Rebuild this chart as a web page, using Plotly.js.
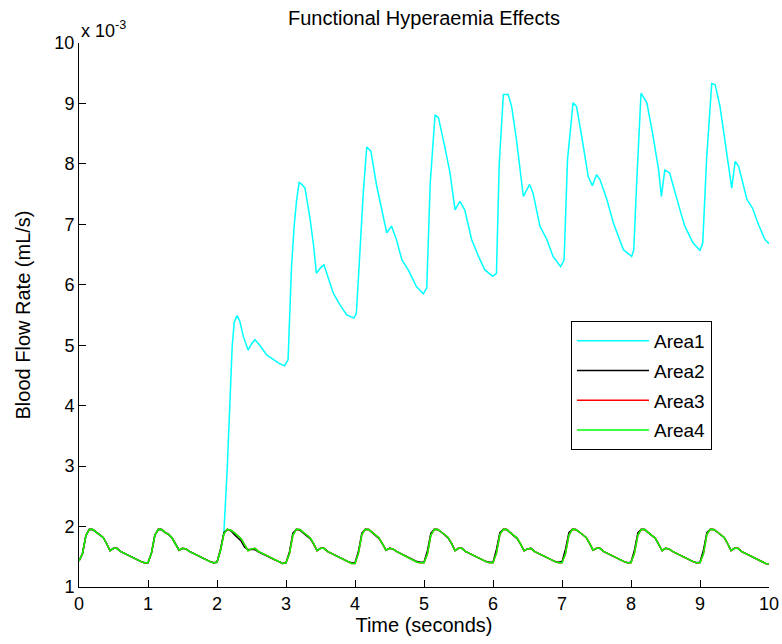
<!DOCTYPE html>
<html>
<head>
<meta charset="utf-8">
<script src="https://cdn.plot.ly/plotly-3.0.1.min.js"></script>
<style>
  html, body { margin: 0; padding: 0; background: #fff; }
  #chart { width: 782px; height: 644px; }
</style>
</head>
<body>
<div id="chart"></div>
<script>
// ---- Data ----
const seriesNames = ['Area1', 'Area2', 'Area3', 'Area4'];

// Shared time grid (seconds) for Area2..Area4
const tGrid = [
  0.00,0.05,0.10,0.15,0.20,0.25,0.30,0.35,0.40,0.45,0.50,0.55,0.60,0.65,0.70,0.75,0.80,0.85,0.90,0.95,
  1.00,1.05,1.10,1.15,1.20,1.25,1.30,1.35,1.40,1.45,1.50,1.55,1.60,1.65,1.70,1.75,1.80,1.85,1.90,1.95,
  2.00,2.05,2.10,2.15,2.20,2.25,2.30,2.35,2.40,2.45,2.50,2.55,2.60,2.65,2.70,2.75,2.80,2.85,2.90,2.95,
  3.00,3.05,3.10,3.15,3.20,3.25,3.30,3.35,3.40,3.45,3.50,3.55,3.60,3.65,3.70,3.75,3.80,3.85,3.90,3.95,
  4.00,4.05,4.10,4.15,4.20,4.25,4.30,4.35,4.40,4.45,4.50,4.55,4.60,4.65,4.70,4.75,4.80,4.85,4.90,4.95,
  5.00,5.05,5.10,5.15,5.20,5.25,5.30,5.35,5.40,5.45,5.50,5.55,5.60,5.65,5.70,5.75,5.80,5.85,5.90,5.95,
  6.00,6.05,6.10,6.15,6.20,6.25,6.30,6.35,6.40,6.45,6.50,6.55,6.60,6.65,6.70,6.75,6.80,6.85,6.90,6.95,
  7.00,7.05,7.10,7.15,7.20,7.25,7.30,7.35,7.40,7.45,7.50,7.55,7.60,7.65,7.70,7.75,7.80,7.85,7.90,7.95,
  8.00,8.05,8.10,8.15,8.20,8.25,8.30,8.35,8.40,8.45,8.50,8.55,8.60,8.65,8.70,8.75,8.80,8.85,8.90,8.95,
  9.00,9.05,9.10,9.15,9.20,9.25,9.30,9.35,9.40,9.45,9.50,9.55,9.60,9.65,9.70,9.75,9.80,9.85,9.90,9.95,
  10.00
];

// Area4 (x 10^-3 mL/s)
const area4 = [
  1.43,1.55,1.85,1.955,1.95,1.91,1.87,1.82,1.72,1.60,1.64,1.64,1.59,1.56,1.53,1.50,1.47,1.44,1.42,1.40,
  1.40,1.56,1.86,1.955,1.95,1.90,1.87,1.81,1.71,1.61,1.64,1.63,1.59,1.56,1.53,1.50,1.47,1.44,1.42,1.40,
  1.41,1.60,1.88,1.955,1.94,1.90,1.85,1.80,1.70,1.60,1.63,1.64,1.59,1.56,1.53,1.50,1.47,1.44,1.42,1.39,
  1.40,1.55,1.86,1.955,1.95,1.91,1.86,1.81,1.72,1.60,1.64,1.64,1.59,1.56,1.53,1.50,1.47,1.44,1.42,1.39,
  1.39,1.56,1.87,1.955,1.95,1.90,1.86,1.81,1.71,1.61,1.64,1.63,1.59,1.56,1.53,1.50,1.47,1.44,1.41,1.40,
  1.40,1.55,1.86,1.955,1.95,1.91,1.87,1.82,1.72,1.60,1.64,1.64,1.59,1.56,1.53,1.50,1.47,1.44,1.42,1.40,
  1.40,1.56,1.87,1.955,1.95,1.90,1.86,1.81,1.71,1.60,1.63,1.64,1.59,1.56,1.53,1.50,1.47,1.44,1.42,1.40,
  1.40,1.55,1.86,1.955,1.95,1.91,1.87,1.82,1.72,1.61,1.64,1.64,1.59,1.56,1.53,1.50,1.47,1.44,1.42,1.40,
  1.40,1.56,1.86,1.955,1.95,1.90,1.86,1.81,1.71,1.60,1.64,1.63,1.59,1.56,1.53,1.50,1.47,1.44,1.42,1.40,
  1.40,1.55,1.87,1.955,1.95,1.91,1.87,1.82,1.72,1.60,1.64,1.64,1.59,1.56,1.53,1.50,1.47,1.44,1.41,1.39,
  1.38
];

// Area3 (hidden under Area4 in the picture)
const area3 = [
  1.43,1.55,1.85,1.955,1.95,1.91,1.87,1.82,1.72,1.60,1.64,1.64,1.59,1.56,1.53,1.50,1.47,1.44,1.42,1.40,
  1.40,1.56,1.86,1.955,1.95,1.90,1.87,1.81,1.71,1.61,1.64,1.63,1.59,1.56,1.53,1.50,1.47,1.44,1.42,1.40,
  1.41,1.60,1.88,1.955,1.94,1.90,1.85,1.80,1.70,1.60,1.63,1.64,1.59,1.56,1.53,1.50,1.47,1.44,1.42,1.39,
  1.40,1.55,1.86,1.955,1.95,1.91,1.86,1.81,1.72,1.60,1.64,1.64,1.59,1.56,1.53,1.50,1.47,1.44,1.42,1.39,
  1.39,1.56,1.87,1.955,1.95,1.90,1.86,1.81,1.71,1.61,1.64,1.63,1.59,1.56,1.53,1.50,1.47,1.44,1.41,1.40,
  1.40,1.55,1.86,1.955,1.95,1.91,1.87,1.82,1.72,1.60,1.64,1.64,1.59,1.56,1.53,1.50,1.47,1.44,1.42,1.40,
  1.40,1.56,1.87,1.955,1.95,1.90,1.86,1.81,1.71,1.60,1.63,1.64,1.59,1.56,1.53,1.50,1.47,1.44,1.42,1.40,
  1.40,1.55,1.86,1.955,1.95,1.91,1.87,1.82,1.72,1.61,1.64,1.64,1.59,1.56,1.53,1.50,1.47,1.44,1.42,1.40,
  1.40,1.56,1.86,1.955,1.95,1.90,1.86,1.81,1.71,1.60,1.64,1.63,1.59,1.56,1.53,1.50,1.47,1.44,1.42,1.40,
  1.40,1.55,1.87,1.955,1.95,1.91,1.87,1.82,1.72,1.60,1.64,1.64,1.59,1.56,1.53,1.50,1.47,1.44,1.41,1.39,
  1.38
];

// Area2 (mostly under Area4, peeks out on some rising / falling edges)
const area2 = [
  1.43,1.55,1.85,1.955,1.95,1.91,1.87,1.82,1.72,1.60,1.64,1.64,1.59,1.56,1.53,1.50,1.47,1.44,1.42,1.40,
  1.40,1.56,1.86,1.955,1.95,1.90,1.87,1.81,1.71,1.61,1.64,1.63,1.59,1.56,1.53,1.50,1.47,1.44,1.42,1.40,
  1.41,1.62,1.90,1.955,1.93,1.87,1.82,1.76,1.66,1.62,1.62,1.62,1.58,1.55,1.52,1.49,1.47,1.44,1.42,1.39,
  1.40,1.58,1.89,1.955,1.94,1.89,1.85,1.80,1.71,1.60,1.64,1.64,1.59,1.56,1.53,1.50,1.47,1.44,1.42,1.40,
  1.40,1.59,1.89,1.955,1.95,1.90,1.85,1.80,1.71,1.61,1.64,1.63,1.59,1.56,1.53,1.50,1.47,1.44,1.42,1.41,
  1.41,1.60,1.89,1.955,1.95,1.91,1.86,1.81,1.72,1.60,1.64,1.64,1.59,1.56,1.53,1.50,1.47,1.44,1.42,1.41,
  1.41,1.62,1.90,1.955,1.95,1.90,1.85,1.80,1.71,1.60,1.63,1.64,1.59,1.56,1.53,1.50,1.47,1.44,1.42,1.41,
  1.42,1.62,1.90,1.955,1.95,1.91,1.87,1.82,1.72,1.61,1.64,1.64,1.59,1.56,1.53,1.50,1.47,1.44,1.42,1.40,
  1.41,1.61,1.90,1.955,1.95,1.90,1.86,1.81,1.71,1.60,1.64,1.63,1.59,1.56,1.53,1.50,1.47,1.44,1.42,1.40,
  1.41,1.61,1.90,1.955,1.95,1.91,1.87,1.82,1.72,1.60,1.64,1.64,1.59,1.56,1.53,1.50,1.47,1.44,1.41,1.39,
  1.38
];

// Area1 has its own time points
const tArea1 = [
  0.00,0.05,0.10,0.15,0.20,0.25,0.30,0.35,0.40,0.45,0.50,0.55,0.60,0.65,0.70,0.75,0.80,0.85,0.90,0.95,
  1.00,1.05,1.10,1.15,1.20,1.25,1.30,1.35,1.40,1.45,1.50,1.55,1.60,1.65,1.70,1.75,1.80,1.85,1.90,1.95,
  2.00,2.05,2.10,2.15,2.20,2.22,2.25,2.29,2.33,2.38,2.45,2.50,2.55,2.62,2.72,2.80,2.90,2.98,
  3.03,3.08,3.12,3.155,3.19,3.23,3.275,3.35,3.40,3.44,3.50,3.55,3.62,3.685,3.78,3.88,3.985,
  4.02,4.07,4.12,4.17,4.23,4.315,4.40,4.46,4.53,4.60,4.68,4.77,4.89,4.99,
  5.04,5.09,5.16,5.21,5.30,5.377,5.45,5.52,5.59,5.69,5.79,5.88,5.995,
  6.05,6.09,6.15,6.22,6.27,6.34,6.44,6.53,6.58,6.68,6.78,6.87,6.98,
  7.03,7.08,7.16,7.21,7.285,7.38,7.44,7.50,7.55,7.65,7.745,7.89,
  8.01,8.04,8.08,8.145,8.23,8.32,8.40,8.44,8.49,8.56,8.71,8.78,8.90,
  9.00,9.04,9.095,9.17,9.22,9.29,9.39,9.46,9.51,9.56,9.68,9.76,9.85,9.94,10.00
];
const area1 = [
  1.43,1.55,1.85,1.955,1.95,1.91,1.87,1.82,1.72,1.60,1.64,1.64,1.59,1.56,1.53,1.50,1.47,1.44,1.42,1.40,
  1.40,1.56,1.86,1.955,1.95,1.90,1.87,1.81,1.71,1.61,1.64,1.63,1.59,1.56,1.53,1.50,1.47,1.44,1.42,1.40,
  1.41,1.60,1.90,3.00,4.60,4.98,5.38,5.49,5.40,5.15,4.92,5.02,5.09,5.00,4.84,4.78,4.70,4.66,
  4.76,6.30,7.00,7.41,7.69,7.66,7.60,7.08,6.65,6.19,6.28,6.33,6.10,5.86,5.67,5.50,5.45,
  5.53,6.52,7.52,8.28,8.21,7.63,7.20,6.86,6.97,6.75,6.41,6.25,5.97,5.85,
  5.95,7.68,8.81,8.76,8.29,7.85,7.24,7.38,7.24,6.75,6.47,6.25,6.14,
  6.19,7.99,9.15,9.15,8.95,8.40,7.46,7.66,7.52,6.97,6.75,6.47,6.30,
  6.41,8.07,9.01,8.95,8.46,7.79,7.64,7.82,7.74,7.41,7.02,6.58,
  6.47,6.58,7.63,9.17,9.01,8.46,7.90,7.46,7.90,7.85,7.24,6.97,6.69,
  6.57,6.69,8.07,9.33,9.31,8.95,8.12,7.60,8.04,7.96,7.41,7.27,6.99,6.75,6.68
];

const xTickVals = [0,1,2,3,4,5,6,7,8,9,10];
const yTickVals = [1,2,3,4,5,6,7,8,9,10];

// ---- Styling ----
const FONT = 'Arial, "Liberation Sans", Helvetica, sans-serif';
const colors = ['#00FFFF', '#000000', '#FF0000', '#00FF00'];
const xs = [tArea1, tGrid, tGrid, tGrid];
const ys = [area1, area2, area3, area4];

const traces = seriesNames.map((name, i) => ({
  type: 'scatter',
  mode: 'lines',
  name: name,
  x: xs[i],
  y: ys[i],
  legendgroup: 'g' + i,
  line: { color: colors[i], width: 1.5 }
}));

const axisCommon = {
  showline: true,
  linecolor: '#000',
  linewidth: 1,
  mirror: false,
  showgrid: false,
  zeroline: false,
  ticks: 'inside',
  ticklen: 7,
  tickwidth: 1,
  tickcolor: '#000',
  tickfont: { family: FONT, size: 18, color: '#000' },
  fixedrange: true
};

const layout = {
  width: 782,
  height: 644,
  margin: { l: 79, r: 13, t: 43, b: 57, pad: 0 },
  paper_bgcolor: '#fff',
  plot_bgcolor: '#fff',
  font: { family: FONT, size: 18, color: '#000' },
  title: {
    text: 'Functional Hyperaemia Effects',
    font: { family: FONT, size: 20, color: '#000' },
    x: 0.5, xref: 'paper', xanchor: 'center',
    y: 0.972, yref: 'container', yanchor: 'middle'
  },
  xaxis: Object.assign({}, axisCommon, {
    range: [0, 10],
    tickvals: xTickVals,
    ticktext: xTickVals.map(String),
    title: { text: 'Time (seconds)', font: { family: FONT, size: 20, color: '#000' }, standoff: 2 }
  }),
  yaxis: Object.assign({}, axisCommon, {
    range: [1, 10],
    tickvals: yTickVals,
    ticktext: yTickVals.map(String),
    title: { text: 'Blood Flow Rate (mL/s)', font: { family: FONT, size: 20, color: '#000' }, standoff: 18 }
  }),
  showlegend: true,
  legend: {
    x: 0.713, xanchor: 'left',
    y: 0.489, yanchor: 'top',
    bgcolor: '#fff',
    bordercolor: '#000',
    borderwidth: 1,
    font: { family: FONT, size: 19, color: '#000' },
    tracegroupgap: 2,
    itemwidth: 72
  },
  annotations: [{
    text: 'x 10<sup>-3</sup>',
    xref: 'paper', yref: 'paper',
    x: 0, y: 1,
    xanchor: 'left', yanchor: 'bottom',
    showarrow: false,
    font: { family: FONT, size: 18, color: '#000' }
  }]
};

Plotly.newPlot('chart', traces, layout, { displayModeBar: false, staticPlot: true });
</script>
</body>
</html>
